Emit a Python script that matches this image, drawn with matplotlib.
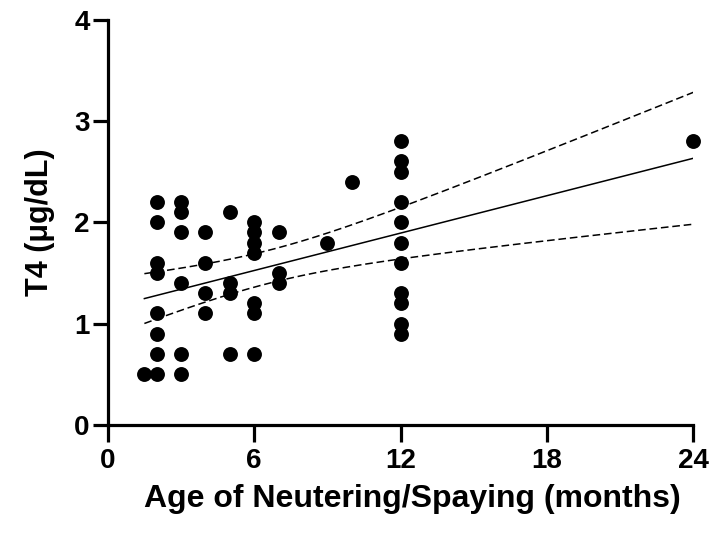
import matplotlib
matplotlib.use("Agg")
import matplotlib.pyplot as plt
import numpy as np

plt.rcParams['font.family'] = ['Liberation Sans', 'DejaVu Sans']
plt.rcParams['font.weight'] = 'bold'

# age at neutering (months) and T4 (ug/dL)
age = [1.5,
       2, 2, 2, 2, 2, 2, 2, 2,
       3, 3, 3, 3, 3, 3,
       4, 4, 4, 4,
       5, 5, 5, 5,
       6, 6, 6, 6, 6, 6, 6,
       7, 7, 7,
       9, 10,
       12, 12, 12, 12, 12, 12, 12, 12, 12, 12, 12,
       24]
t4 = [0.5,
      2.2, 2.0, 1.6, 1.5, 1.1, 0.9, 0.7, 0.5,
      2.2, 2.1, 1.9, 1.4, 0.7, 0.5,
      1.9, 1.6, 1.3, 1.1,
      2.1, 1.4, 1.3, 0.7,
      2.0, 1.9, 1.8, 1.7, 1.2, 1.1, 0.7,
      1.9, 1.5, 1.4,
      1.8, 2.4,
      2.8, 2.6, 2.5, 2.2, 2.0, 1.8, 1.6, 1.3, 1.2, 1.0, 0.9,
      2.8]

x_ticks = [0, 6, 12, 18, 24]
y_ticks = [0, 1, 2, 3, 4]

x = np.array(age)
y = np.array(t4)
n = len(x)

# linear fit with 95% confidence band
slope, intercept = np.polyfit(x, y, 1)
resid = y - (slope * x + intercept)
s = np.sqrt(np.sum(resid ** 2) / (n - 2))
sxx = np.sum((x - x.mean()) ** 2)
t_crit = 2.014  # t(0.975, df=45)
xf = np.linspace(x.min(), x.max(), 200)
yf = slope * xf + intercept
half = t_crit * s * np.sqrt(1 / n + (xf - x.mean()) ** 2 / sxx)

fig = plt.figure(figsize=(7.09, 5.33), dpi=100)
ax = fig.add_axes([0.152, 0.203, 0.826, 0.760])

ax.scatter(x, y, s=115, color='black', zorder=3, clip_on=False, linewidths=0)
ax.plot(xf, yf, color='black', lw=1.1)
ax.plot(xf, yf + half, color='black', lw=1.1, ls=(0, (5, 2.5)))
ax.plot(xf, yf - half, color='black', lw=1.1, ls=(0, (5, 2.5)))

ax.set_xlim(0, 24)
ax.set_ylim(0, 4)
ax.set_xticks(x_ticks)
ax.set_yticks(y_ticks)
ax.spines['top'].set_visible(False)
ax.spines['right'].set_visible(False)
for sp in ['left', 'bottom']:
    ax.spines[sp].set_linewidth(2.3)
ax.tick_params(width=2.3, labelsize=20)
ax.tick_params(axis='x', length=12, pad=5)
ax.tick_params(axis='y', length=11, pad=2)

ax.set_xlabel('Age of Neutering/Spaying (months)', fontsize=23, fontweight='bold')
ax.xaxis.set_label_coords(0.52, -0.147)
ax.set_ylabel('T4 (μg/dL)', fontsize=22, fontweight='bold', labelpad=14)

fig.savefig('out.png', dpi=100)
